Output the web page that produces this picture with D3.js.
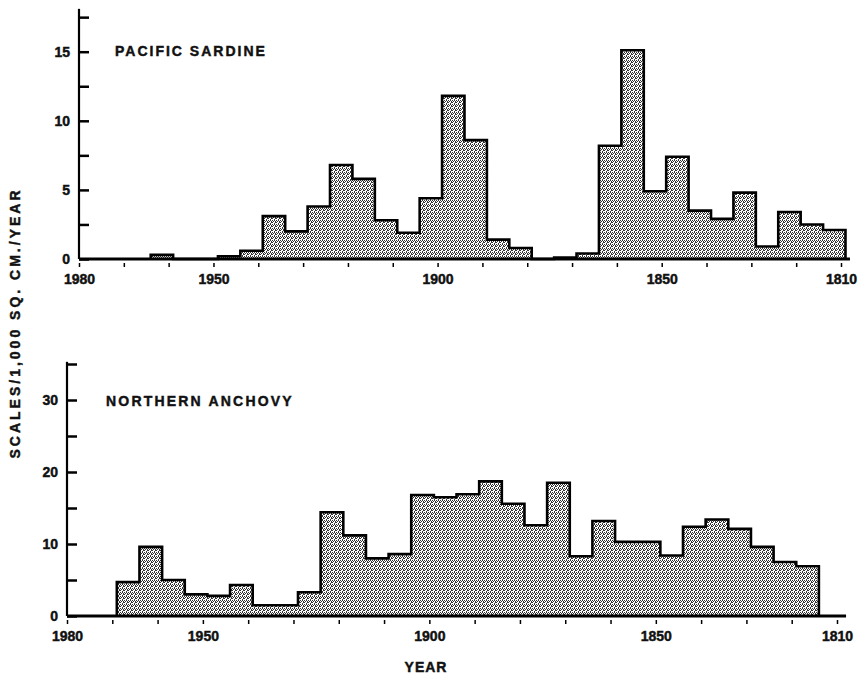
<!DOCTYPE html>
<html>
<head>
<meta charset="utf-8">
<script src="https://cdn.jsdelivr.net/npm/d3@7"></script>
<style>
  body { margin: 0; background: #fff; }
  text { font-family: "Liberation Sans", Arial, sans-serif; font-weight: bold; fill: #111; stroke: #111; stroke-width: 0.45px; }
</style>
</head>
<body>
<div id="container"></div>
<script>
/* DATA */
// each bin covers 5 years going back in time from the start year
const sardineBins = [1964, 1959, 1954, 1949, 1944, 1939, 1934, 1929, 1924, 1919, 1914, 1909, 1904, 1899, 1894, 1889,
  1884, 1879, 1874, 1869, 1864, 1859, 1854, 1849, 1844, 1839, 1834, 1829, 1824, 1819, 1814]
const sardineValues = [0.3, 0, 0, 0.2, 0.6, 3.1, 2.0, 3.8, 6.8, 5.8, 2.8, 1.9, 4.4, 11.8, 8.6, 1.4,
  0.8, 0, 0.1, 0.4, 8.2, 15.1, 4.9, 7.4, 3.5, 2.9, 4.8, 0.9, 3.4, 2.5, 2.1]

const anchovyBins = [1969, 1964, 1959, 1954, 1949, 1944, 1939, 1934, 1929, 1924, 1919, 1914, 1909, 1904, 1899, 1894,
  1889, 1884, 1879, 1874, 1869, 1864, 1859, 1854, 1849, 1844, 1839, 1834, 1829, 1824, 1819]
const anchovyValues = [4.7, 9.6, 5.0, 3.0, 2.8, 4.3, 1.5, 1.5, 3.3, 14.4, 11.2, 8.0, 8.6, 16.8, 16.5, 16.9,
  18.7, 15.6, 12.6, 18.5, 8.3, 13.2, 10.3, 10.3, 8.4, 12.4, 13.4, 12.1, 9.6, 7.5, 6.9]

const yearTicks = [1980, 1970, 1960, 1950, 1940, 1930, 1920, 1910, 1900, 1890, 1880, 1870, 1860, 1850, 1840, 1830, 1820, 1810]
const yearLabels = [1980, 1950, 1900, 1850, 1810]
const sardineYTicks = [0, 2.5, 5, 7.5, 10, 12.5, 15, 17.5]
const sardineYLabels = [0, 5, 10, 15]
const anchovyYTicks = [0, 5, 10, 15, 20, 25, 30, 35]
const anchovyYLabels = [0, 10, 20, 30]

const binWidth = 5

/* CONSTANTS AND GLOBALS */
const width = 862
const height = 675

const svg = d3.select("#container")
  .append("svg")
  .attr("width", width)
  .attr("height", height)

svg.append("rect").attr("width", width).attr("height", height).attr("fill", "#fff")

// stipple pattern to imitate the screened fill
const pat = svg.append("defs").append("pattern")
  .attr("id", "stip")
  .attr("patternUnits", "userSpaceOnUse")
  .attr("width", 4).attr("height", 4)
pat.append("rect").attr("width", 4).attr("height", 4).attr("fill", "#fff")
const dots = [[0, 0], [2, 0], [1, 1], [3, 2], [0, 2], [2, 3], [3, 1]]
pat.selectAll("rect.d").data(dots).join("rect")
  .attr("class", "d")
  .attr("x", d => d[0]).attr("y", d => d[1])
  .attr("width", 1).attr("height", 1)
  .attr("fill", "#333")

function drawPanel(opt) {
  const g = svg.append("g")

  /* SCALES */
  const xScale = d3.scaleLinear().domain([1980, 1810]).range(opt.xRange)
  const yScale = d3.scaleLinear().domain([0, opt.yLabelMax]).range([opt.y0, opt.yLabelY])

  const pts = opt.bins.map((b, i) => ({year: b, v: opt.values[i]}))
  const last = opt.bins[opt.bins.length - 1] - binWidth
  const stepPts = pts.concat([{year: last, v: opt.values[opt.values.length - 1]}])

  const area = d3.area()
    .x(d => xScale(d.year))
    .y0(yScale(0))
    .y1(d => yScale(d.v))
    .curve(d3.curveStepAfter)

  const line = d3.line()
    .x(d => xScale(d.year))
    .y(d => yScale(d.v))
    .curve(d3.curveStepAfter)

  g.append("path")
    .datum(stepPts)
    .attr("d", area)
    .attr("fill", "url(#stip)")

  g.append("path")
    .datum([{year: opt.bins[0], v: 0}].concat(stepPts, [{year: last, v: 0}]))
    .attr("d", line)
    .attr("fill", "none")
    .attr("stroke", "#000")
    .attr("stroke-width", 2.6)
    .attr("stroke-linejoin", "miter")

  // baseline
  g.append("line")
    .attr("x1", xScale(1980)).attr("x2", xScale(1808))
    .attr("y1", yScale(0)).attr("y2", yScale(0))
    .attr("stroke", "#000").attr("stroke-width", 3)

  // x axis
  const xAxis = d3.axisBottom(xScale)
    .tickValues(yearTicks)
    .tickSizeInner(8).tickSizeOuter(0).tickPadding(7)
    .tickFormat(d => yearLabels.includes(d) ? d : "")
  const gx = g.append("g")
    .attr("transform", `translate(0, ${yScale(0)})`)
    .call(xAxis)
  gx.select(".domain").remove()
  gx.selectAll(".tick line").attr("y1", 4).attr("stroke-width", 1.5)
  gx.selectAll(".tick text").attr("font-size", 14).attr("font-family", null).attr("fill", null)

  // y axis, ticks pointing inward
  const yAxis = d3.axisLeft(yScale)
    .tickValues(opt.yTicks)
    .tickSizeInner(-10).tickSizeOuter(0).tickPadding(9)
    .tickFormat(d => opt.yLabels.includes(d) ? d : "")
  const gy = g.append("g")
    .attr("transform", `translate(${xScale(1980)}, 0)`)
    .call(yAxis)
  gy.select(".domain")
    .attr("d", `M0,${yScale(0)}V${yScale(opt.yTop)}`)
    .attr("stroke-width", 2.2)
  gy.selectAll(".tick line").attr("stroke-width", 2.5)
  gy.selectAll(".tick text").attr("font-size", 14).attr("font-family", null).attr("fill", null)

  g.append("text")
    .attr("x", opt.titleX).attr("y", opt.titleY)
    .attr("font-size", 14)
    .attr("letter-spacing", opt.titleSpacing)
    .text(opt.title)
}

drawPanel({
  bins: sardineBins, values: sardineValues,
  xRange: [79, 841], y0: 259, yLabelMax: 15, yLabelY: 51.7, yTop: 18.1,
  yTicks: sardineYTicks, yLabels: sardineYLabels,
  title: "PACIFIC SARDINE", titleX: 115, titleY: 56, titleSpacing: 2
})

drawPanel({
  bins: anchovyBins, values: anchovyValues,
  xRange: [67, 837], y0: 616, yLabelMax: 30, yLabelY: 400, yTop: 35.3,
  yTicks: anchovyYTicks, yLabels: anchovyYLabels,
  title: "NORTHERN ANCHOVY", titleX: 106, titleY: 406, titleSpacing: 2.2
})

/* AXIS TITLES */
svg.append("text")
  .attr("transform", "translate(20, 323) rotate(-90)")
  .attr("text-anchor", "middle")
  .attr("font-size", 14)
  .attr("letter-spacing", 3)
  .text("SCALES/1,000 SQ. CM./YEAR")

svg.append("text")
  .attr("x", 426).attr("y", 672)
  .attr("text-anchor", "middle")
  .attr("font-size", 14)
  .attr("letter-spacing", 1)
  .text("YEAR")
</script>
</body>
</html>
